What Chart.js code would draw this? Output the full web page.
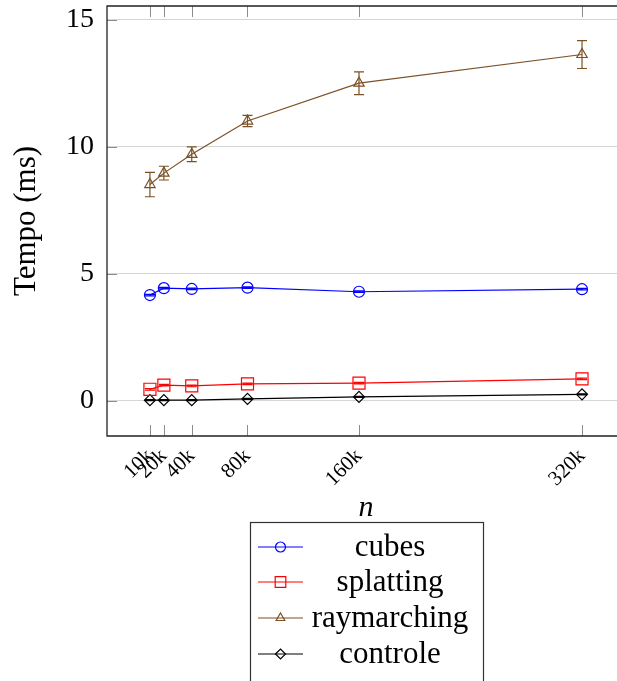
<!DOCTYPE html>
<html>
<head>
<meta charset="utf-8">
<script src="https://cdn.jsdelivr.net/npm/chart.js@4.4.1/dist/chart.umd.min.js"></script>
<style>
  html, body { margin: 0; padding: 0; background: #fff; }
</style>
</head>
<body>
<canvas id="chart" width="617" height="681"></canvas>
<script>
// data
const nValues = [10000, 20000, 40000, 80000, 160000, 320000];
const tickLabels = ["10k", "20k", "40k", "80k", "160k", "320k"];
const yTicks = [0, 5, 10, 15];

const cubes = [4.17, 4.44, 4.41, 4.46, 4.30, 4.40];
const cubesErr = [0.03, 0.03, 0.03, 0.03, 0.03, 0.03];
const splatting = [0.46, 0.62, 0.59, 0.67, 0.70, 0.87];
const splattingErr = [0.03, 0.03, 0.03, 0.03, 0.03, 0.03];
const raymarching = [8.52, 8.97, 9.71, 11.02, 12.51, 13.64];
const raymarchingErr = [0.48, 0.27, 0.29, 0.22, 0.45, 0.55];
const controle = [0.03, 0.03, 0.03, 0.08, 0.16, 0.26];
const controleErr = [0.02, 0.02, 0.02, 0.02, 0.02, 0.02];

const serif = "'Liberation Serif', 'DejaVu Serif', serif";
const brown = "#7b5125";

function series(label, values, errs, color, style, radius, legendRadius) {
    return {
        label: label,
        data: values.map((v, i) => ({ x: nValues[i], y: v })),
        errors: errs,
        legendRadius: legendRadius,
        borderColor: color,
        backgroundColor: "transparent",
        borderWidth: 1.2,
        pointStyle: style,
        pointRadius: radius,
        pointBorderColor: color,
        pointBackgroundColor: "transparent",
        pointBorderWidth: 1.2,
        tension: 0
    };
}

// error bars, frame, inner ticks, x title and legend box
const decor = {
    id: "decor",
    afterDatasetsDraw(chart) {
        const { ctx, scales: { x, y } } = chart;
        ctx.save();
        chart.data.datasets.forEach(ds => {
            ctx.strokeStyle = ds.borderColor;
            ctx.lineWidth = 1.2;
            ds.data.forEach((p, j) => {
                const px = x.getPixelForValue(p.x);
                const top = y.getPixelForValue(p.y + ds.errors[j]);
                const bot = y.getPixelForValue(p.y - ds.errors[j]);
                ctx.beginPath();
                ctx.moveTo(px, top); ctx.lineTo(px, bot);
                ctx.moveTo(px - 5, top); ctx.lineTo(px + 5, top);
                ctx.moveTo(px - 5, bot); ctx.lineTo(px + 5, bot);
                ctx.stroke();
            });
        });
        ctx.restore();
    },
    afterDraw(chart) {
        const { ctx, chartArea: a, scales: { x, y } } = chart;
        ctx.save();
        // inner tick marks
        ctx.strokeStyle = "#8c8c8c";
        ctx.lineWidth = 1;
        ctx.beginPath();
        yTicks.forEach(v => {
            const py = Math.round(y.getPixelForValue(v)) + 0.5;
            ctx.moveTo(a.left, py); ctx.lineTo(a.left + 10, py);
        });
        nValues.forEach(v => {
            const px = Math.round(x.getPixelForValue(v)) + 0.5;
            ctx.moveTo(px, a.bottom); ctx.lineTo(px, a.bottom - 11);
            ctx.moveTo(px, a.top); ctx.lineTo(px, a.top + 11);
        });
        ctx.stroke();
        // frame (right edge falls outside the page)
        ctx.strokeStyle = "#222";
        ctx.lineWidth = 1.3;
        ctx.beginPath();
        ctx.moveTo(a.right, a.top); ctx.lineTo(a.left, a.top);
        ctx.lineTo(a.left, a.bottom); ctx.lineTo(a.right, a.bottom);
        ctx.stroke();
        // x title
        ctx.fillStyle = "#000";
        ctx.font = "italic 30px " + serif;
        ctx.textAlign = "center";
        ctx.textBaseline = "middle";
        ctx.fillText("n", 366, 508);
        // legend
        ctx.strokeStyle = "#333";
        ctx.lineWidth = 1.2;
        ctx.strokeRect(250.5, 522.5, 233, 200);
        const rows = [547, 582, 618, 654];
        ctx.font = "31px " + serif;
        chart.data.datasets.forEach((ds, i) => {
            const ry = rows[i];
            ctx.strokeStyle = ds.borderColor;
            ctx.lineWidth = 1.2;
            ctx.beginPath();
            ctx.moveTo(258, ry); ctx.lineTo(303, ry);
            ctx.stroke();
            ctx.fillStyle = "rgba(0,0,0,0)";
            Chart.helpers.drawPoint(ctx, {
                pointStyle: ds.pointStyle, radius: ds.legendRadius, rotation: 0, borderWidth: 1.2
            }, 280.5, ry);
            ctx.fillStyle = "#000";
            ctx.fillText(ds.label, 390, ry + 1);
        });
        ctx.restore();
    }
};

new Chart(document.getElementById("chart").getContext("2d"), {
    type: "line",
    data: {
        datasets: [
            series("cubes", cubes, cubesErr, "#0000ff", "circle", 5.5, 5),
            series("splatting", splatting, splattingErr, "#ff0000", "rect", 8.5, 7.5),
            series("raymarching", raymarching, raymarchingErr, brown, "triangle", 6, 5),
            series("controle", controle, controleErr, "#000000", "rectRot", 5.5, 5)
        ]
    },
    options: {
        responsive: false,
        animation: false,
        layout: { autoPadding: false, padding: { left: 0, right: 0, top: 6, bottom: 0 } },
        plugins: { legend: { display: false }, tooltip: { enabled: false } },
        scales: {
            x: {
                type: "linear",
                min: -20800,
                max: 345100,
                afterBuildTicks: s => { s.ticks = nValues.map(v => ({ value: v })); },
                afterFit: s => {
                    s.height = 245;
                    s.paddingLeft = 0; s.paddingRight = 0;
                    s.paddingTop = 0; s.paddingBottom = 0;
                },
                grid: { display: false },
                border: { display: false },
                ticks: {
                    autoSkip: false,
                    minRotation: 45,
                    maxRotation: 45,
                    padding: 0,
                    color: "#000",
                    font: { family: serif, size: 21 },
                    callback: v => tickLabels[nValues.indexOf(v)]
                }
            },
            y: {
                min: -1.38,
                max: 15.55,
                afterBuildTicks: s => { s.ticks = yTicks.map(v => ({ value: v })); },
                afterFit: s => {
                    s.width = 107;
                    s.paddingLeft = 0; s.paddingRight = 0;
                    s.paddingTop = 0; s.paddingBottom = 0;
                },
                grid: { color: "#d6d6d6", lineWidth: 1, drawTicks: false },
                border: { display: false },
                ticks: {
                    padding: 13,
                    color: "#000",
                    font: { family: serif, size: 28 }
                },
                title: {
                    display: true,
                    text: "Tempo (ms)",
                    color: "#000",
                    font: { family: serif, size: 31 },
                    padding: { top: 8, bottom: 0 }
                }
            }
        }
    },
    plugins: [decor]
});
</script>
</body>
</html>
